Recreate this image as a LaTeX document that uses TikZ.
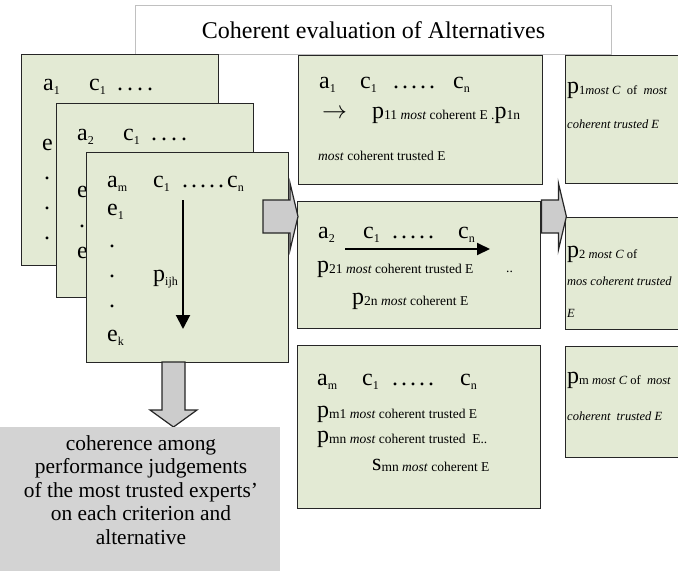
\documentclass[tikz,border=0pt]{standalone}
\usepackage{fontspec}
\setmainfont{Liberation Serif}
\usetikzlibrary{arrows.meta}
\definecolor{boxgreen}{RGB}{227,234,212}
\definecolor{arrowgray}{RGB}{204,204,204}
\definecolor{notegray}{RGB}{211,211,211}
\definecolor{framegray}{RGB}{192,192,192}
\newcommand{\sbs}[1]{\raisebox{-4pt}{\fontsize{12}{12}\selectfont #1}}
\newcommand{\sbm}[1]{\raisebox{-1pt}{\fontsize{13.5}{14}\selectfont #1}}
\newcommand{\sbr}[1]{\raisebox{-1pt}{\fontsize{12.5}{14}\selectfont #1}}
\newcommand{\dotrow}[2]{\foreach \k in {1,...,#1}{.\hspace{#2}}}
\tikzset{
  altbox/.style={draw=black!85, line width=1.4pt, fill=boxgreen, inner sep=0pt, anchor=north west},
  txt/.style={anchor=base west, inner sep=0pt, font=\fontsize{24}{26}\selectfont},
  small/.style={anchor=base west, inner sep=0pt, font=\fontsize{13.5}{14}\selectfont},
  note/.style={anchor=base west, inner sep=0pt, font=\fontsize{12.5}{14}\selectfont\itshape},
  blockarrow/.style={draw=black!85, line width=1.2pt, fill=arrowgray, line join=miter},
  flow/.style={line width=2pt, -{Triangle[length=14pt,width=14pt]}}
}

\begin{document}
\begin{tikzpicture}[x=1pt,y=-1pt]
  \useasboundingbox (0,0) rectangle (678,571);
  \clip (0,0) rectangle (678,571);

  \node[draw=framegray, line width=1pt, fill=white, minimum width=476pt, minimum height=49pt,
        anchor=north west, inner sep=0pt, font=\fontsize{24}{26}\selectfont] (title) at (135,5)
        {Coherent evaluation of Alternatives};

  % stack of alternatives
  \node[altbox, minimum width=197pt, minimum height=211pt] (alt1) at (21,54) {};
    \node[txt] (alt1row) at (43,90) {\makebox[46pt][l]{a\sbs{1}}\makebox[28pt][l]{c\sbs{1}}\dotrow{4}{4pt}};
    \node[txt] (alt1e) at (42,150) {e};
    \foreach \y in {179,209,239} \node[txt] (alt1dot\y) at (44,\y) {.};
  \node[altbox, minimum width=197pt, minimum height=194pt] (alt2) at (56,103) {};
    \node[txt] (alt2row) at (77,140) {\makebox[46pt][l]{a\sbs{2}}\makebox[28pt][l]{c\sbs{1}}\dotrow{4}{4pt}};
    \node[txt] (alt2e) at (77,197) {e};
    \node[txt] (alt2dot) at (79,227) {.};
    \node[txt] (alt2ek) at (77,258) {e};
  \node[altbox, minimum width=202pt, minimum height=210pt] (altm) at (86,152) {};
    \node[txt] (altmrow) at (107,187) {\makebox[46pt][l]{a\sbs{m}}\makebox[29pt][l]{c\sbs{1}}\dotrow{5}{3pt}c\sbs{n}};
    \node[txt] (altme) at (107,215) {e\sbs{1}};
    \foreach \y in {247,277,307} \node[txt] (altmdot\y) at (109,\y) {.};
    \node[txt] (altmek) at (107,341) {e\sbs{k}};
    \node[txt] (pijh) at (153,281) {p\sbs{ijh}};
    \coordinate (downtop) at (183,200);
    \coordinate (downbot) at (183,329);
    \draw[flow] (downtop) -- (downbot);

  % evaluation per alternative
  \node[altbox, minimum width=244pt, minimum height=129pt] (eval1) at (298,55) {};
    \node[txt] (eval1row) at (319,88) {\makebox[41pt][l]{a\sbs{1}}\makebox[33pt][l]{c\sbs{1}}\makebox[60pt][l]{\dotrow{5}{3pt}}c\sbs{n}};
    \node[txt] (eval1p) at (322,118) {\makebox[50pt][l]{$\rightarrow$}p\sbm{11 \textit{most} coherent E .}p\sbm{1n}};
    \node[small] (eval1e) at (318,160) {\textit{most} coherent trusted E};
  \node[altbox, minimum width=243pt, minimum height=127pt] (eval2) at (297,201) {};
    \node[txt] (eval2row) at (318,238) {\makebox[45pt][l]{a\sbs{2}}\makebox[29pt][l]{c\sbs{1}}\makebox[66pt][l]{\dotrow{5}{3pt}}c\sbs{n}};
    \coordinate (rowstart) at (345,249);
    \coordinate (rowend) at (490,249);
    \draw[flow, -{Triangle[length=13pt,width=12pt]}] (rowstart) -- (rowend);
    \node[txt] (eval2p) at (317,272) {p\sbm{21 \textit{most} coherent trusted E}};
    \node[small] (eval2dots) at (506,272) {..};
    \node[txt] (eval2pn) at (352,304) {p\sbm{2n \textit{most} coherent E}};
  \node[altbox, minimum width=243pt, minimum height=163pt] (evalm) at (297,345) {};
    \node[txt] (evalmrow) at (317,385) {\makebox[45pt][l]{a\sbs{m}}\makebox[30pt][l]{c\sbs{1}}\makebox[68pt][l]{\dotrow{5}{3pt}}c\sbs{n}};
    \node[txt] (evalmp) at (317,417) {p\sbm{m1 \textit{most} coherent trusted E}};
    \node[txt] (evalmpn) at (317,442) {p\sbm{mn \textit{most} coherent trusted\ \ E..}};
    \node[txt] (evalms) at (372,470) {s\sbm{mn \textit{most} coherent E}};

  % most coherent per alternative
  \node[altbox, minimum width=130pt, minimum height=128pt] (best1) at (565,55) {};
    \node[txt] (best1p) at (567,93) {p\sbr{1\textit{most C}\ \ of\ \ \textit{most}}};
    \node[note] (best1e) at (567,128) {coherent trusted E};
  \node[altbox, minimum width=130pt, minimum height=112pt] (best2) at (565,217) {};
    \node[txt] (best2p) at (567,257) {p\sbr{2 \textit{most C} of}};
    \node[note] (best2e) at (567,285) {mos coherent trusted};
    \node[note] (best2E) at (567,317) {E};
  \node[altbox, minimum width=130pt, minimum height=111pt] (bestm) at (565,346) {};
    \node[txt] (bestmp) at (567,383) {p\sbr{m \textit{most C} of\ \ \textit{most}}};
    \node[note] (bestme) at (567,420) {coherent\ \ trusted E};

  % block arrows
  \coordinate (stackout) at (263,216.5);
  \filldraw[blockarrow] (stackout) ++(0,-16.5) -- ++(27,0) -- ++(0,-17) -- ++(8,33.5)
     -- ++(-8,33.5) -- ++(0,-17) -- ++(-27,0) -- cycle;
  \coordinate (evalout) at (eval2.east |- stackout);
  \filldraw[blockarrow] (evalout) ++(0,-16.5) -- ++(17,0) -- ++(0,-17) -- ++(8,33.5)
     -- ++(-8,33.5) -- ++(0,-17) -- ++(-17,0) -- cycle;
  \coordinate (stackdown) at (173.5,362);
  \filldraw[blockarrow] (stackdown) ++(-11.5,0) -- ++(0,48) -- ++(-12,0) -- ++(23.5,17)
     -- ++(23.5,-17) -- ++(-12,0) -- ++(0,-48) -- cycle;

  \node[fill=notegray, minimum width=280pt, minimum height=144pt, anchor=north west, inner sep=0pt] (summary) at (0,427) {};
  \node[font=\fontsize{21.4}{23.6}\selectfont, inner sep=0pt, anchor=base] (summarytext) at (141,450)
        {\begin{tabular}[t]{@{}c@{}}coherence among\\performance judgements\\of the most trusted experts'\\on each criterion and\\alternative\end{tabular}};
\end{tikzpicture}
\end{document}
